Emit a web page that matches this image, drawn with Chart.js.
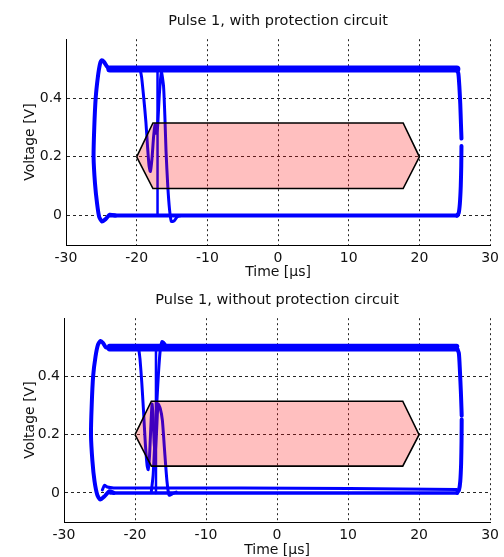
<!DOCTYPE html>
<html><head><meta charset="utf-8">
<script src="https://cdn.jsdelivr.net/npm/chart.js@4/dist/chart.umd.min.js"></script>
<style>
html,body{margin:0;padding:0;background:#fff;overflow:hidden;width:504px;height:557px;}
.wrap{position:absolute;left:0;width:504px;height:285px;}
canvas{display:block;}
</style></head><body>
<div class="wrap" style="top:0"><canvas id="c1" width="504" height="285" style="width:504px;height:285px"></canvas></div>
<div class="wrap" style="top:280px"><canvas id="c2" width="504" height="285" style="width:504px;height:285px"></canvas></div>
<script>
// ---- texts and ticks ----
const titles = ['Pulse 1, with protection circuit', 'Pulse 1, without protection circuit'];
const xLabel = 'Time [µs]';
const yLabel = 'Voltage [V]';
const xTicks = [-30, -20, -10, 0, 10, 20, 30];
const yTicks = [0, 0.2, 0.4];

// ---- mask (hexagon) ----
const maskPts = [[-20,0.2],[-17.7,0.315],[17.7,0.315],[20,0.2],[17.7,0.092],[-17.7,0.092],[-20,0.2]];

// ---- plot 1 : with protection circuit ----
const p1TopRail = [[-23.8,0.499],[25.3,0.499]];
const p1BottomRail = [[-23.8,0.0],[25.4,0.0]];
const p1LeftEdge = [[-23.0,0.0],[-23.8,0.003],[-24.4,-0.012],[-24.9,-0.02],[-25.3,-0.005],[-25.6,0.04],[-25.9,0.11],[-26.1,0.2],[-26.0,0.3],[-25.8,0.4],[-25.5,0.47],[-25.2,0.515],[-24.95,0.528],[-24.6,0.522],[-24.2,0.507],[-23.8,0.498],[-23.0,0.498]];
const p1RightEdgeUpper = [[25.2,0.498],[25.5,0.485],[25.65,0.44],[25.78,0.38],[25.88,0.31],[25.95,0.262]];
const p1RightEdgeLower = [[25.95,0.237],[25.92,0.17],[25.85,0.1],[25.72,0.04],[25.55,0.008],[25.3,0.0]];
const p1Ringing = [[-19.5,0.498],[-19.3,0.47],[-19.0,0.40],[-18.7,0.32],[-18.45,0.23],[-18.25,0.17],[-18.07,0.15],[-17.85,0.19],[-17.6,0.27],[-17.4,0.31],[-17.25,0.28],[-17.05,0.3],[-16.8,0.41],[-16.5,0.488],[-16.2,0.44],[-16.0,0.33],[-15.85,0.22],[-15.6,0.1],[-15.35,0.02],[-15.1,-0.02],[-14.7,-0.018],[-14.3,-0.005],[-13.8,0.0]];
const p1FastEdge = [[-17.1,0.0],[-17.05,0.495]];

// ---- plot 2 : without protection circuit ----
const p2TopRailA = [[-23.6,0.504],[25.3,0.504]];
const p2TopRailB = [[-23.6,0.494],[25.3,0.494]];
const p2BottomRailA = [[-23.5,0.0],[25.4,0.0]];
const p2BottomRailB = [[-24.6,0.01],[-24.3,0.026],[-23.9,0.02],[-23.0,0.017],[-5.0,0.017],[25.3,0.012]];
const p2LeftEdge = [[-23.0,0.0],[-23.6,0.006],[-24.3,-0.012],[-24.9,-0.023],[-25.3,-0.008],[-25.7,0.04],[-26.0,0.11],[-26.2,0.2],[-26.1,0.3],[-25.9,0.4],[-25.55,0.47],[-25.2,0.51],[-24.85,0.522],[-24.5,0.515],[-24.1,0.5],[-23.5,0.497],[-23.0,0.498]];
const p2RightEdgeUpper = [[25.3,0.5],[25.6,0.48],[25.75,0.42],[25.88,0.35],[25.97,0.29],[26.0,0.265]];
const p2RightEdgeLower = [[26.0,0.252],[25.98,0.18],[25.92,0.1],[25.8,0.04],[25.62,0.01],[25.35,0.0]];
const p2Ringing = [[-19.5,0.5],[-19.3,0.46],[-19.05,0.38],[-18.8,0.28],[-18.55,0.17],[-18.3,0.095],[-18.15,0.08],[-17.95,0.13],[-17.75,0.24],[-17.6,0.305],[-17.45,0.26],[-17.3,0.17],[-17.15,0.14],[-16.95,0.22],[-16.75,0.305],[-16.45,0.29],[-16.15,0.25],[-15.85,0.15],[-15.5,0.04],[-15.2,-0.008],[-14.8,-0.004],[-14.2,0.003]];
const p2Rise = [[-17.7,0.005],[-17.45,0.06],[-17.2,0.18],[-16.95,0.3],[-16.7,0.41],[-16.45,0.49],[-16.2,0.52],[-15.9,0.515],[-15.5,0.502],[-15.0,0.5]];
const p2FastEdge = [[-17.1,0.0],[-17.05,0.5]];

const FONT = 'DejaVu Sans';
const BLUE = '#0000ff';
const toXY = arr => arr.map(p => ({x: p[0], y: p[1]}));

function trace(arr, width, tension) {
  return {data: toXY(arr), showLine: true, borderColor: BLUE, backgroundColor: BLUE,
    borderWidth: width, pointRadius: 0, tension: tension || 0, fill: false,
    borderCapStyle: 'round', borderJoinStyle: 'round'};
}
function maskSet() {
  return {data: toXY(maskPts), showLine: true, borderColor: '#000', borderWidth: 1.6,
    backgroundColor: 'rgba(255,0,0,0.25)', pointRadius: 0, tension: 0, fill: 'shape',
    borderJoinStyle: 'miter'};
}

function makeChart(id, title, traces, g) {
  const datasets = [maskSet()].concat(traces);
  return new Chart(document.getElementById(id), {
    type: 'scatter',
    data: {datasets},
    options: {
      responsive: false, animation: false, events: [],
      layout: {padding: {left: 0, right: g.right, top: 0, bottom: 0}},
      plugins: {
        legend: {display: false}, tooltip: {enabled: false},
        title: {display: true, text: title, color: '#111', fullSize: false,
          font: {family: FONT, size: 14.5, weight: 'normal'},
          padding: {top: g.tTop, bottom: g.tBottom}}
      },
      scales: {
        x: {type: 'linear', min: -30, max: 30,
          afterBuildTicks: s => { s.ticks = xTicks.map(v => ({value: v})); },
          afterFit: s => { s.height = g.xh; },
          ticks: {color: '#111', font: {family: FONT, size: 14}, padding: 5, maxRotation: 0,
            callback: v => String(v)},
          grid: {color: 'rgba(0,0,0,0.85)', lineWidth: 1, drawTicks: false},
          border: {display: true, color: '#000', width: 1, dash: [2, 3]},
          title: {display: true, text: xLabel, color: '#111',
            font: {family: FONT, size: 14}, padding: {top: 0, bottom: g.xtb}}
        },
        y: {type: 'linear', min: -0.1, max: 0.6,
          afterBuildTicks: s => { s.ticks = yTicks.map(v => ({value: v})); },
          afterFit: s => { s.width = g.yw; },
          ticks: {color: '#111', font: {family: FONT, size: 14}, padding: 4,
            callback: v => (v === 0 ? '0' : String(Math.round(v * 10) / 10))},
          grid: {color: 'rgba(0,0,0,0.85)', lineWidth: 1, drawTicks: false},
          border: {display: true, color: '#000', width: 1, dash: [3, 3]},
          title: {display: true, text: yLabel, color: '#111',
            font: {family: FONT, size: 14}, padding: {top: 21.6, bottom: 0}}
        }
      }
    }
  });
}

makeChart('c1', titles[0], [
  trace(p1TopRail, 7),
  trace(p1BottomRail, 4),
  trace(p1LeftEdge, 4, 0.2),
  trace(p1RightEdgeUpper, 4, 0.2),
  trace(p1RightEdgeLower, 4, 0.2),
  trace(p1Ringing, 3, 0.2),
  trace(p1FastEdge, 2.5)
], {right: 12, tTop: 13, tBottom: 8.8, xh: 40, xtb: 4.6, yw: 66});

makeChart('c2', titles[1], [
  trace(p2TopRailA, 5),
  trace(p2TopRailB, 5),
  trace(p2BottomRailA, 3.5),
  trace(p2BottomRailB, 3, 0.2),
  trace(p2LeftEdge, 4, 0.2),
  trace(p2RightEdgeUpper, 4, 0.2),
  trace(p2RightEdgeLower, 4, 0.2),
  trace(p2Ringing, 3, 0.2),
  trace(p2Rise, 3, 0.2),
  trace(p2FastEdge, 2.5)
], {right: 13, tTop: 11.5, tBottom: 9.3, xh: 43, xtb: 6.6, yw: 64});
</script>
</body></html>
